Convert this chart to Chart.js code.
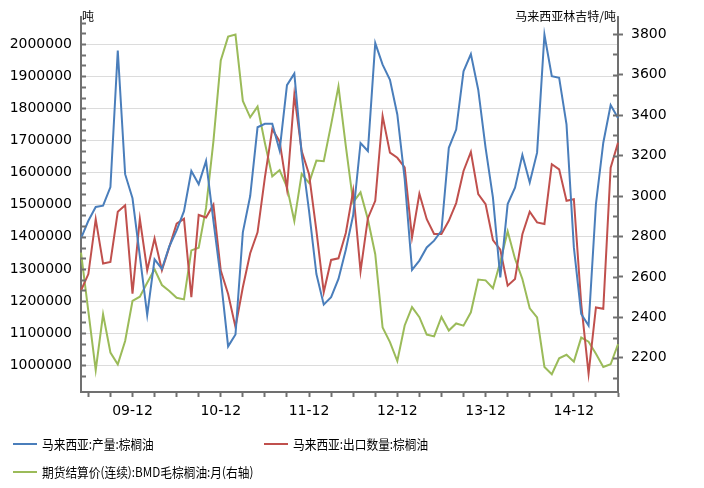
<!DOCTYPE html>
<html>
<head>
<meta charset="utf-8">
<script src="https://cdn.jsdelivr.net/npm/chart.js@4.4.1/dist/chart.umd.min.js"></script>
<style>
  body { margin: 0; background: #fff; }
  #wrap { position: relative; width: 704px; height: 488px; }
  .t { position: absolute; font-family: "Noto Sans CJK SC", "DejaVu Sans", sans-serif; font-size: 12px; color: #000; white-space: nowrap; line-height: 14px; }
  .lg { font-size: 13px; transform: scaleX(0.9); transform-origin: left center; }
  .leg { position: absolute; height: 2px; width: 24px; }
</style>
</head>
<body>
<div id="wrap">
  <canvas id="c" width="704" height="488"></canvas>
  <div class="t" style="left:82px; top:9px;">吨</div>
  <div class="t" style="right:88px; top:9px;">马来西亚林吉特/吨</div>
  <div class="leg" style="left:13px; top:443px; background:#4a7ebb;"></div>
  <div class="t lg" style="left:42px; top:437px;">马来西亚:产量:棕榈油</div>
  <div class="leg" style="left:264px; top:443px; background:#c0504d;"></div>
  <div class="t lg" style="left:293px; top:437px;">马来西亚:出口数量:棕榈油</div>
  <div class="leg" style="left:13px; top:471px; background:#9bbb59;"></div>
  <div class="t lg" style="left:42px; top:465px;">期货结算价(连续):BMD毛棕榈油:月(右轴)</div>
</div>
<script>
// monthly, 2009-05 .. 2015-06
const months = [
  "09-05", "09-06", "09-07", "09-08", "09-09", "09-10", "09-11", "09-12",
  "10-01", "10-02", "10-03", "10-04", "10-05", "10-06", "10-07", "10-08", "10-09", "10-10", "10-11", "10-12",
  "11-01", "11-02", "11-03", "11-04", "11-05", "11-06", "11-07", "11-08", "11-09", "11-10", "11-11", "11-12",
  "12-01", "12-02", "12-03", "12-04", "12-05", "12-06", "12-07", "12-08", "12-09", "12-10", "12-11", "12-12",
  "13-01", "13-02", "13-03", "13-04", "13-05", "13-06", "13-07", "13-08", "13-09", "13-10", "13-11", "13-12",
  "14-01", "14-02", "14-03", "14-04", "14-05", "14-06", "14-07", "14-08", "14-09", "14-10", "14-11", "14-12",
  "15-01", "15-02", "15-03", "15-04", "15-05", "15-06"
];

// 马来西亚:产量:棕榈油 (吨)
const production = [
  1395000, 1450000, 1493000, 1497000, 1555000, 1980000, 1595000, 1520000,
  1340000, 1157000, 1330000, 1300000, 1370000, 1420000, 1480000, 1605000, 1564000, 1636000, 1450000, 1270000,
  1059000, 1096000, 1414000, 1527000, 1741000, 1752000, 1752000, 1669000, 1872000, 1908000, 1657000, 1481000,
  1284000, 1189000, 1212000, 1269000, 1360000, 1468000, 1692000, 1667000, 2003000, 1936000, 1889000, 1781000,
  1580000, 1297000, 1326000, 1367000, 1388000, 1419000, 1677000, 1734000, 1915000, 1969000, 1858000, 1677000,
  1522000, 1274000, 1502000, 1553000, 1655000, 1569000, 1662000, 2029000, 1900000, 1895000, 1750000, 1367000,
  1160000, 1124000, 1502000, 1693000, 1810000, 1770000
];

// 马来西亚:出口数量:棕榈油 (吨)
const exports = [
  1233000, 1284000, 1455000, 1317000, 1322000, 1478000, 1498000, 1223000,
  1456000, 1296000, 1395000, 1296000, 1368000, 1441000, 1456000, 1212000, 1468000, 1460000, 1500000, 1295000,
  1222000, 1119000, 1243000, 1349000, 1414000, 1585000, 1735000, 1697000, 1549000, 1842000, 1667000, 1595000,
  1419000, 1228000, 1328000, 1333000, 1412000, 1543000, 1293000, 1458000, 1512000, 1776000, 1662000, 1646000,
  1616000, 1398000, 1534000, 1455000, 1409000, 1409000, 1450000, 1505000, 1605000, 1664000, 1533000, 1502000,
  1390000, 1360000, 1248000, 1269000, 1408000, 1478000, 1445000, 1440000, 1626000, 1610000, 1512000, 1517000,
  1191000, 974000, 1180000, 1176000, 1615000, 1693000
];

// 期货结算价(连续):BMD毛棕榈油:月 (林吉特/吨, 右轴)
const bmdPrice = [
  2720, 2430, 2139, 2415, 2226, 2168, 2283, 2481,
  2502, 2571, 2638, 2560, 2530, 2497, 2489, 2731, 2744, 2941, 3270, 3670,
  3788, 3798, 3470, 3389, 3442, 3262, 3097, 3128, 3044, 2876, 3109, 3065,
  3175, 3172, 3353, 3542, 3246, 2969, 3018, 2885, 2712, 2350, 2278, 2184,
  2360, 2451, 2401, 2315, 2306, 2402, 2335, 2370, 2359, 2425, 2587, 2583,
  2544, 2675, 2826, 2690, 2590, 2445, 2400, 2155, 2119, 2198, 2215, 2181,
  2300, 2280, 2220, 2155, 2168, 2267
];

const leftTicks = [1000000, 1100000, 1200000, 1300000, 1400000, 1500000, 1600000, 1700000, 1800000, 1900000, 2000000];
const rightTicks = [2200, 2400, 2600, 2800, 3000, 3200, 3400, 3600, 3800];

const axisColor = "#707070";
const tickFont = { family: "DejaVu Sans", size: 14 };

// small inner tick marks (minor ticks) on both value axes
const minorTicks = {
  id: "minorTicks",
  afterDraw(chart) {
    const ctx = chart.ctx;
    const yl = chart.scales.y;
    const yr = chart.scales.y1;
    ctx.save();
    ctx.strokeStyle = axisColor;
    ctx.lineWidth = 2;
    ctx.beginPath();
    for (let v = 1000000 - 100000 / 3; v <= yl.max; v += 100000 / 3) {
      if (v < yl.min) continue;
      const p = Math.round(yl.getPixelForValue(v)) + 0.5;
      ctx.moveTo(yl.right, p);
      ctx.lineTo(yl.right + 5, p);
    }
    for (let v = 2100; v <= yr.max; v += 100) {
      const p = Math.round(yr.getPixelForValue(v)) + 0.5;
      ctx.moveTo(yr.left - 5, p);
      ctx.lineTo(yr.left, p);
    }
    ctx.stroke();
    ctx.restore();
  }
};

function line(label, data, color, axis) {
  return {
    label: label,
    data: data,
    yAxisID: axis,
    borderColor: color,
    backgroundColor: color,
    borderWidth: 2,
    pointRadius: 0,
    tension: 0,
    fill: false
  };
}

new Chart(document.getElementById("c"), {
  type: "line",
  data: {
    labels: months,
    datasets: [
      line("马来西亚:产量:棕榈油", production, "#4a7ebb", "y"),
      line("马来西亚:出口数量:棕榈油", exports, "#c0504d", "y"),
      line("期货结算价(连续):BMD毛棕榈油:月(右轴)", bmdPrice, "#9bbb59", "y1")
    ]
  },
  options: {
    responsive: false,
    animation: false,
    devicePixelRatio: 1,
    layout: { padding: { top: 16, left: 0, right: 0, bottom: 0 } },
    plugins: {
      legend: { display: false },
      tooltip: { enabled: false }
    },
    scales: {
      x: {
        type: "category",
        offset: false,
        afterBuildTicks: s => {
          s.ticks = s.ticks.filter(t => Number(months[t.value].slice(3)) % 3 === 0);
        },
        afterFit: s => { s.height = 96; },
        ticks: {
          autoSkip: false,
          maxRotation: 0,
          padding: 6,
          color: "#000",
          font: tickFont,
          callback: function (v) {
            const lab = this.getLabelForValue(v);
            return lab.slice(3) === "12" ? lab : "";
          }
        },
        grid: { drawOnChartArea: false, drawTicks: true, tickLength: 5, tickColor: axisColor, tickWidth: 2 },
        border: { color: axisColor, width: 2 }
      },
      y: {
        position: "left",
        min: 917000,
        max: 2083000,
        afterBuildTicks: s => { s.ticks = leftTicks.map(v => ({ value: v })); },
        afterFit: s => { s.width = 81; },
        ticks: { padding: 9, color: "#000", font: tickFont, callback: v => String(v) },
        grid: { color: "#dcdcdc", lineWidth: 1, drawTicks: false },
        border: { color: axisColor, width: 2 }
      },
      y1: {
        position: "right",
        min: 2031,
        max: 3883,
        afterBuildTicks: s => { s.ticks = rightTicks.map(v => ({ value: v })); },
        afterFit: s => { s.width = 86; },
        ticks: { padding: 8, color: "#000", font: tickFont, callback: v => String(v) },
        grid: { drawOnChartArea: false, drawTicks: true, tickLength: 5, tickColor: axisColor, tickWidth: 2 },
        border: { color: axisColor, width: 2 }
      }
    }
  },
  plugins: [minorTicks]
});
</script>
</body>
</html>
